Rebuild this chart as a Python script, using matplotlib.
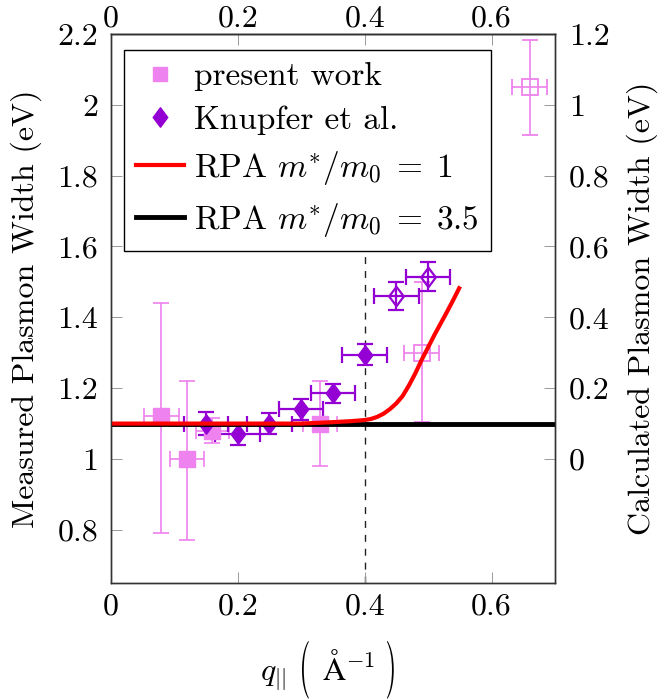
import numpy as np
from matplotlib import pyplot as plt
from matplotlib.lines import Line2D
from matplotlib.path import Path
from matplotlib.patches import PathPatch
from matplotlib.textpath import TextPath
from matplotlib.font_manager import FontProperties
from matplotlib.transforms import Affine2D
from matplotlib.ticker import FuncFormatter

plt.rcParams['font.family'] = 'cmr10'
plt.rcParams['mathtext.fontset'] = 'cm'
plt.rcParams['axes.formatter.use_mathtext'] = True
plt.rcParams['axes.unicode_minus'] = False

# present work (filled and open squares), measured axis (eV)
pw_x = [0.08, 0.12, 0.16, 0.33]
pw_y = [1.12, 1.00, 1.08, 1.10]
pw_ylo = [0.33, 0.23, 0.035, 0.12]
pw_yhi = [0.32, 0.22, 0.035, 0.12]
pw_xerr = [0.027, 0.027, 0.026, 0.027]

pwo_x = [0.49, 0.66]
pwo_y = [1.30, 2.05]
pwo_ylo = [0.195, 0.136]
pwo_yhi = [0.20, 0.134]
pwo_xerr = [0.028, 0.028]

# Knupfer et al. (filled and open diamonds)
kn_x = [0.15, 0.20, 0.25, 0.30, 0.35, 0.40]
kn_y = [1.10, 1.07, 1.10, 1.14, 1.185, 1.295]
kn_yerr = [0.033, 0.03, 0.03, 0.03, 0.028, 0.031]
kn_xerr = [0.035] * 6

kno_x = [0.45, 0.50]
kno_y = [1.46, 1.515]
kno_yerr = [0.04, 0.04]
kno_xerr = [0.035, 0.035]

# RPA curves, calculated axis (eV)
rpa1_x = [0.0, 0.30, 0.35, 0.38, 0.40, 0.41, 0.42, 0.43, 0.44, 0.45, 0.46,
          0.47, 0.48, 0.49, 0.50, 0.51, 0.52, 0.53, 0.54, 0.549]
rpa1_y = [0.100, 0.100, 0.104, 0.107, 0.110, 0.113, 0.119, 0.128, 0.141, 0.157, 0.178,
          0.208, 0.242, 0.280, 0.315, 0.350, 0.383, 0.416, 0.450, 0.482]
rpa35_x = [0.0, 0.7]
rpa35_y = [0.10, 0.10]

pink = '#EE82EE'
purple = '#9400D3'
fs = 23
diamond = Path([(0, 1), (0.75, 0), (0, -1), (-0.75, 0), (0, 1)],
               [Path.MOVETO, Path.LINETO, Path.LINETO, Path.LINETO, Path.CLOSEPOLY])

fig = plt.figure(figsize=(6.66, 6.99), dpi=100)
ax = fig.add_axes([0.1662, 0.166, 0.6671, 0.7854])
ax2 = ax.twinx()

ekw = dict(capsize=6, linestyle='none')
ax.errorbar(pw_x, pw_y, yerr=[pw_ylo, pw_yhi], xerr=pw_xerr, marker='s', ms=12,
            color=pink, mec=pink, elinewidth=1.2, capthick=1.2, **ekw)
ax.errorbar(pwo_x, pwo_y, yerr=[pwo_ylo, pwo_yhi], xerr=pwo_xerr, marker='s', ms=12,
            color=pink, mfc='none', mec=pink, mew=1.3, elinewidth=1.2, capthick=1.2, **ekw)
ax.errorbar(kn_x, kn_y, yerr=kn_yerr, xerr=kn_xerr, marker=diamond, ms=14,
            color=purple, mec=purple, elinewidth=1.6, capthick=1.6, **ekw)
ax.errorbar(kno_x, kno_y, yerr=kno_yerr, xerr=kno_xerr, marker=diamond, ms=14,
            color=purple, mfc='none', mec=purple, mew=1.6, elinewidth=1.6, capthick=1.6, **ekw)
ax.vlines(0.4, 0.65, 1.9, color='#222222', lw=1.0, ls=(0, (5, 5)), zorder=0)

ax2.plot(rpa35_x, rpa35_y, color='black', lw=3.5)
ax2.plot(rpa1_x, rpa1_y, color='red', lw=3)

ax.set_xlim(0, 0.7)
ax.set_ylim(0.65, 2.2)
ax2.set_ylim(-0.35, 1.2)

fmt = FuncFormatter(lambda v, p: '%g' % round(v, 3))
xt = [0, 0.2, 0.4, 0.6]
ax.set_xticks(xt)
ax.set_yticks(np.arange(0.8, 2.21, 0.2))
ax2.set_yticks(np.arange(0, 1.21, 0.2))
for a in (ax.xaxis, ax.yaxis, ax2.yaxis):
    a.set_major_formatter(fmt)

tkw = dict(direction='in', length=8, width=0.7, color='#999999', labelsize=fs)
ax.tick_params(axis='x', pad=7, **tkw)
ax.tick_params(axis='y', pad=9, **tkw)
ax2.tick_params(axis='y', pad=10, **tkw)

top = ax.secondary_xaxis('top')
top.set_xticks(xt)
top.xaxis.set_major_formatter(fmt)
top.tick_params(axis='x', pad=1, **tkw)

for a in (ax, ax2, top):
    for s in a.spines.values():
        s.set_linewidth(1.0)
        s.set_color('#333333')

ax.set_ylabel('Measured Plasmon Width (eV)', fontsize=fs, labelpad=11)
ax2.set_ylabel('Calculated Plasmon Width (eV)', fontsize=fs, labelpad=12)

# x label: q_|| with tall parentheses around the unit
base = 19
fig.text(260 / 666, base / 699, r'$q_{||}$', fontsize=fs, ha='left', va='baseline')
fig.text(322 / 666, base / 699, r'$\mathrm{\AA}^{-1}$', fontsize=fs, ha='left', va='baseline')
fp = FontProperties(family='cmr10', size=fs)
k = 100 / 72
for ch, x0 in (('(', 302), (')', 387)):
    tp = TextPath((0, 0), ch, prop=fp)
    tr = Affine2D().scale(0.9 * k, 1.8 * k).translate(x0 - tp.get_extents().x0 * 0.9 * k, 14.8)
    fig.add_artist(PathPatch(tp, transform=tr, facecolor='black', lw=0))

handles = [
    Line2D([], [], color=pink, marker='s', ls='none', ms=10),
    Line2D([], [], color=purple, marker=diamond, ls='none', ms=14),
    Line2D([], [], color='red', lw=3),
    Line2D([], [], color='black', lw=3.5),
]
labels = ['present work', 'Knupfer et al.', r'RPA $m^{*}/m_0\;=\;1$', r'RPA $m^{*}/m_0\;=\;3.5$']
leg = ax2.legend(handles, labels, loc='upper left', bbox_to_anchor=(0.03, 0.97),
                 borderaxespad=0, fontsize=24, frameon=True, fancybox=False,
                 edgecolor='black', framealpha=1, handlelength=1.45, borderpad=0.35,
                 labelspacing=0.42, handletextpad=0.3)
leg.get_frame().set_linewidth(1.0)

fig.savefig('out.png', dpi=100)
